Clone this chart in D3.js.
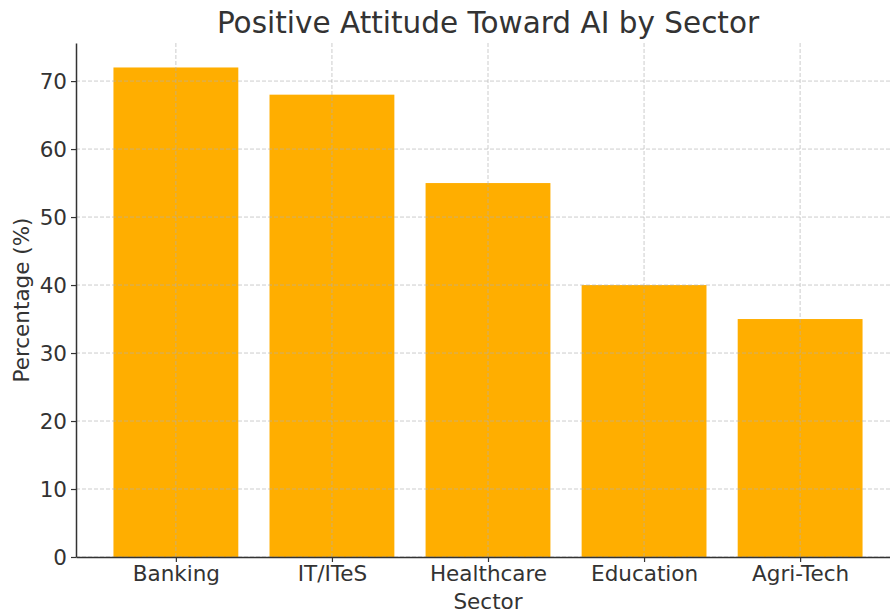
<!DOCTYPE html>
<html>
<head>
<meta charset="utf-8">
<script src="https://cdn.jsdelivr.net/npm/d3@7"></script>
<style>
  body { margin: 0; background: #fff; }
  text { font-family: "DejaVu Sans", sans-serif; fill: #333; }
</style>
</head>
<body>
<svg id="chart" width="890" height="614"></svg>
<script>
// chart data
var sectors = ["Banking", "IT/ITeS", "Healthcare", "Education", "Agri-Tech"];
var percentages = [72, 68, 55, 40, 35];
var yTicks = [0, 10, 20, 30, 40, 50, 60, 70];

var WIDTH = 890, HEIGHT = 614;
var margin = { left: 76, top: 43, bottom: 57 };
var plotRight = 900; // plot area runs slightly past the picture edge
var BAR_COLOR = "#ffae00";
var INK = "#333";
var LABEL_SIZE = "21.5px";

var svg = d3.select("#chart");

var x = d3.scaleLinear()
    .domain([-0.64, sectors.length - 1 + 0.64])
    .range([margin.left, plotRight]);
var y = d3.scaleLinear()
    .domain([0, d3.max(percentages) * 1.05])
    .range([HEIGHT - margin.bottom, margin.top]);

var barWidth = x(0.8) - x(0);

// bars
svg.append("g").selectAll("rect")
    .data(percentages)
    .enter()
    .append("rect")
    .attr("x", function(d, i) { return x(i) - barWidth / 2; })
    .attr("y", function(d) { return y(d); })
    .attr("width", barWidth)
    .attr("height", function(d) { return y(0) - y(d); })
    .attr("fill", BAR_COLOR);

// grid on top of bars, like the reference
var grid = svg.append("g")
    .attr("stroke", "#b0b0b0")
    .attr("stroke-opacity", 0.7)
    .attr("stroke-dasharray", "4,2")
    .attr("stroke-width", 0.9);
grid.selectAll("line.h")
    .data(yTicks)
    .enter()
    .append("line")
    .attr("x1", margin.left).attr("x2", plotRight)
    .attr("y1", function(d) { return y(d); })
    .attr("y2", function(d) { return y(d); });
grid.selectAll("line.v")
    .data(sectors)
    .enter()
    .append("line")
    .attr("y1", y.range()[1]).attr("y2", y(0))
    .attr("x1", function(d, i) { return x(i); })
    .attr("x2", function(d, i) { return x(i); });

// axes
var xAxis = d3.axisBottom(x)
    .tickValues(d3.range(sectors.length))
    .tickFormat(function(i) { return sectors[i]; })
    .tickSize(5)
    .tickPadding(5)
    .tickSizeOuter(0);
var yAxis = d3.axisLeft(y)
    .tickValues(yTicks)
    .tickSize(5)
    .tickPadding(4)
    .tickSizeOuter(0);

var gx = svg.append("g")
    .attr("transform", "translate(0," + y(0) + ")")
    .call(xAxis);
var gy = svg.append("g")
    .attr("transform", "translate(" + margin.left + ",0)")
    .call(yAxis);

[gx, gy].forEach(function(g) {
    g.attr("font-size", null).attr("font-family", null);
    g.selectAll("text").style("font-size", LABEL_SIZE).attr("fill", INK);
    g.selectAll("line").attr("stroke", INK).attr("stroke-width", 1.2);
    g.select(".domain").attr("stroke", INK).attr("stroke-width", 1.5);
});
gy.selectAll("text").attr("dy", "0.35em");
gx.selectAll("text").attr("dy", "0.66em");

// labels
svg.append("text")
    .attr("x", (margin.left + plotRight) / 2)
    .attr("y", 33)
    .attr("text-anchor", "middle")
    .style("font-size", "29.5px")
    .text("Positive Attitude Toward AI by Sector");

svg.append("text")
    .attr("x", (margin.left + plotRight) / 2)
    .attr("y", 609)
    .attr("text-anchor", "middle")
    .style("font-size", LABEL_SIZE)
    .text("Sector");

svg.append("text")
    .attr("transform", "translate(29," + (y.range()[0] + y.range()[1]) / 2 + ") rotate(-90)")
    .attr("text-anchor", "middle")
    .style("font-size", LABEL_SIZE)
    .text("Percentage (%)");
</script>
</body>
</html>
